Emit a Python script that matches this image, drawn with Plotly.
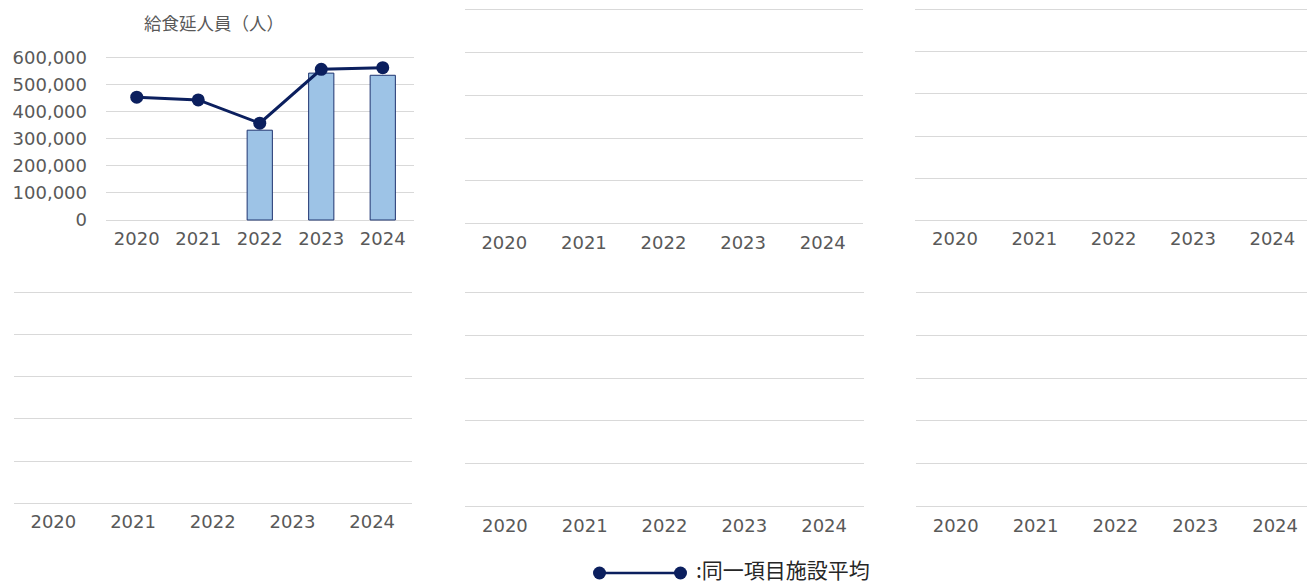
import plotly.graph_objects as go

years = ["2020", "2021", "2022", "2023", "2024"]
facility_values = [None, None, 332000, 543000, 535000]
same_item_avg = [454000, 444000, 358000, 557000, 563000]
panel1_title = "給食延人員（人）"
legend_label = ":同一項目施設平均"
y_ticks_p1 = [0, 100000, 200000, 300000, 400000, 500000, 600000]
grid_steps = [0, 1, 2, 3, 4, 5]

# the page body adds an 8px offset, so the figure is drawn 8px smaller
OFF = 8
W, H = 1315 - OFF, 586 - OFF
PAD = 2.0  # px of padding so edge gridlines are not dropped
BAR_FILL = "#9DC3E6"
BAR_EDGE = "#1F3470"
NAVY = "#0B1F5E"
GRID = "#D9D9D9"
TXT = "#595959"
NUMFONT = "DejaVu Sans"
CJKFONT = "Noto Sans CJK JP"


def xd(a, b):
    return [max(0.0, (a - OFF) / W), min(1.0, (b - OFF) / W)]


def y_geom(gt, gb, vmin, vmax):
    """gridline top/bottom in page px -> (domain, range)."""
    gt = max(gt, OFF + 1.6)
    dt = max(OFF, gt - PAD)
    db = min(OFF + H, gb + PAD)
    u = (vmax - vmin) / (gb - gt)
    rng = [vmin - (db - gb) * u, vmax + (gt - dt) * u]
    dom = [1 - (db - OFF) / H, 1 - (dt - OFF) / H]
    return dom, rng


# panel geometry in reference page px: (x_left, x_right, grid_top, grid_bottom)
panels = [
    (106, 413.5, 57.7, 220),
    (464.5, 862.5, 7.7, 223.7),
    (915.3, 1312, 8, 220.3),
    (13.5, 412, 292.3, 503.3),
    (465, 864, 292.3, 506.7),
    (915.8, 1315, 292.3, 506.7),
]

fig = go.Figure()

fig.add_trace(go.Bar(
    x=years, y=facility_values, xaxis="x", yaxis="y",
    marker=dict(color=BAR_FILL, line=dict(color=BAR_EDGE, width=1)),
    showlegend=False, hoverinfo="skip",
))
fig.add_trace(go.Scatter(
    x=years, y=same_item_avg, xaxis="x", yaxis="y", mode="lines+markers",
    line=dict(color=NAVY, width=3), marker=dict(color=NAVY, size=13),
    showlegend=False, hoverinfo="skip", cliponaxis=False,
))

for i in range(2, 7):
    fig.add_trace(go.Scatter(
        x=years, y=[None] * len(years), xaxis=f"x{i}", yaxis=f"y{i}",
        mode="lines", showlegend=False, hoverinfo="skip",
    ))

layout = dict(
    template="none",
    width=W, height=H,
    margin=dict(l=0, r=0, t=0, b=0, pad=0, autoexpand=False),
    paper_bgcolor="white", plot_bgcolor="white",
    bargap=0.59,
    showlegend=False,
)

for i, (xl, xr, gt, gb) in enumerate(panels, start=1):
    sx = "" if i == 1 else str(i)
    layout[f"xaxis{sx}"] = dict(
        domain=xd(xl, xr), anchor=f"y{sx}", type="category",
        categoryorder="array", categoryarray=years, range=[-0.5, 4.5],
        showgrid=False, zeroline=False, showline=False, ticks="",
        automargin=False,
        tickfont=dict(family=NUMFONT, size=18, color=TXT),
        ticklabelstandoff=4, fixedrange=True,
    )
    if i == 1:
        dom, rng = y_geom(gt, gb, y_ticks_p1[0], y_ticks_p1[-1])
        layout["yaxis"] = dict(
            domain=dom, anchor="x", range=rng,
            tickmode="array", tickvals=y_ticks_p1, tickformat=",",
            showgrid=True, gridcolor=GRID, gridwidth=1.4, zeroline=False,
            showline=False, ticks="", automargin=False,
            tickfont=dict(family=NUMFONT, size=18, color=TXT),
            ticklabelstandoff=18, fixedrange=True,
        )
    else:
        dom, rng = y_geom(gt, gb, grid_steps[0], grid_steps[-1])
        layout[f"yaxis{sx}"] = dict(
            domain=dom, anchor=f"x{sx}", range=rng,
            tickmode="array", tickvals=grid_steps,
            showgrid=True, gridcolor=GRID, gridwidth=1.4, zeroline=False,
            showline=False, ticks="", showticklabels=False, fixedrange=True,
            automargin=False,
        )

layout["xaxis7"] = dict(domain=xd(599.5, 680.5), anchor="y7", range=[0, 1],
                        visible=False, fixedrange=True)
layout["yaxis7"] = dict(domain=[1 - (578 - OFF) / H, 1 - (568 - OFF) / H],
                        anchor="x7", range=[-1, 1], visible=False, fixedrange=True)
fig.add_trace(go.Scatter(
    x=[0, 1], y=[0, 0], xaxis="x7", yaxis="y7", mode="lines+markers",
    line=dict(color=NAVY, width=2.5), marker=dict(color=NAVY, size=13),
    showlegend=False, hoverinfo="skip", cliponaxis=False,
))

layout["annotations"] = [
    dict(text=panel1_title, x=(214 - OFF) / W, y=1.0, xref="paper", yref="paper",
         xanchor="center", yanchor="top", showarrow=False,
         font=dict(family=CJKFONT, size=17.5, color=TXT)),
    dict(text=legend_label, x=(694 - OFF) / W, y=0.0, xref="paper", yref="paper",
         xanchor="left", yanchor="bottom", showarrow=False,
         font=dict(family=CJKFONT, size=21, color="#262626")),
]

fig.update_layout(**layout)
fig.write_html("out.html")
